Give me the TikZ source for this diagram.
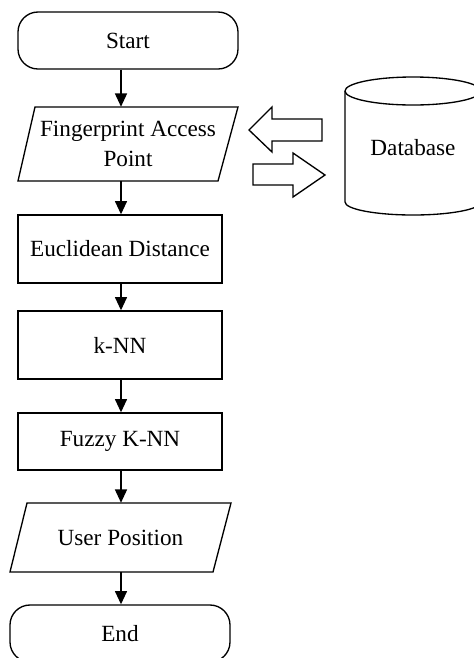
\documentclass[tikz,border=0pt]{standalone}
\usepackage{fontspec}
\setmainfont{Liberation Serif}
\usetikzlibrary{arrows.meta}
\begin{document}
\begin{tikzpicture}[x=0.75pt,y=-0.75pt,
  every node/.style={font=\fontsize{17.4}{22.5}\selectfont, inner sep=0pt},
  term/.style={draw, line width=1pt, rounded corners=15pt, minimum width=165pt, minimum height=42.75pt},
  proc/.style={draw, line width=1pt, minimum width=153pt},
  shp/.style={line width=1pt, line join=miter},
  flow/.style={line width=1.2pt, -{Triangle[length=10pt,width=9pt]}},
]
\clip (0,0) rectangle (474,658);
\coordinate (col) at (121,0);
% flow nodes
\node[term] (start) at (128,40.5) {Start};
\draw[shp] (35,107) -- (238,107) -- (218,181) -- (18,181) -- cycle;
\node[minimum height=55.5pt, align=center] (fap) at (128,144) {Fingerprint Access\\Point};
\node[proc, minimum height=51pt] (euc) at (120,249) {Euclidean Distance};
\node[proc, minimum height=51pt] (knn) at (120,345) {k-NN};
\node[proc, minimum height=42.75pt] (fuzzy) at (120,441.5) {Fuzzy K-NN};
\draw[shp] (27,503) -- (231,503) -- (213,572) -- (10,572) -- cycle;
\node[minimum height=51.75pt] (up) at (120.5,537.5) {User Position};
\node[term] (end) at (120,633.5) {End};
% database
\draw[shp] (345,91) -- (345,202) arc[start angle=180,end angle=360,x radius=51pt,y radius=9.75pt] -- (481,91);
\draw[shp] (413,91) ellipse [x radius=51pt, y radius=10.5pt];
\node (db) at (413,148) {Database};
% block arrows
\draw[shp] (249,130) -- (272,107) -- (272,119) -- (322,119) -- (322,141) -- (272,141) -- (272,152) -- cycle;
\draw[shp] (325,175) -- (293,153) -- (293,164) -- (253,164) -- (253,185) -- (293,185) -- (293,197) -- cycle;
% connectors
\draw[flow] (start.south -| col) -- (fap.north -| col);
\draw[flow] (fap.south -| col) -- (euc.north -| col);
\draw[flow] (euc.south -| col) -- (knn.north -| col);
\draw[flow] (knn.south -| col) -- (fuzzy.north -| col);
\draw[flow] (fuzzy.south -| col) -- (up.north -| col);
\draw[flow] (up.south -| col) -- (end.north -| col);
\end{tikzpicture}
\end{document}
